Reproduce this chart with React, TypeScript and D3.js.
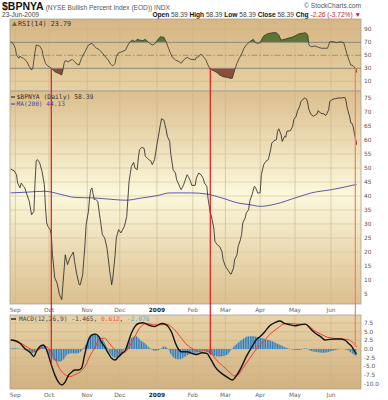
import * as d3 from "d3";
import React from "react";

type Pt = [string, number];

// $BPNYA daily close
const bpnya: Pt[] = [
  ["2008-08-29", 49.6], ["2008-09-01", 49], ["2008-09-03", 47.6], ["2008-09-04", 44.6],
  ["2008-09-06", 42.9], ["2008-09-07", 44.6], ["2008-09-09", 43.5], ["2008-09-10", 43],
  ["2008-09-11", 41.7], ["2008-09-14", 38.1], ["2008-09-16", 33.3], ["2008-09-18", 34.5],
  ["2008-09-19", 45.2], ["2008-09-20", 52.6], ["2008-09-21", 53], ["2008-09-23", 51.8],
  ["2008-09-25", 48.8], ["2008-09-27", 44], ["2008-09-28", 35.7], ["2008-09-29", 30.4],
  ["2008-09-30", 29.2], ["2008-10-02", 28], ["2008-10-03", 26.2], ["2008-10-04", 19],
  ["2008-10-06", 10.7], ["2008-10-08", 8.9], ["2008-10-10", 4.8], ["2008-10-12", 3],
  ["2008-10-13", 8.3], ["2008-10-15", 19], ["2008-10-17", 15.5], ["2008-10-19", 17.9],
  ["2008-10-22", 20], ["2008-10-23", 16.7], ["2008-10-25", 11.9], ["2008-10-27", 8.3],
  ["2008-10-28", 8.3], ["2008-10-30", 11.9], ["2008-11-01", 22.6], ["2008-11-02", 29.8],
  ["2008-11-04", 34.5], ["2008-11-05", 39.3], ["2008-11-06", 42.3], ["2008-11-07", 42.9],
  ["2008-11-09", 38.7], ["2008-11-10", 38.9], ["2008-11-12", 38.1], ["2008-11-14", 32.1],
  ["2008-11-16", 26.2], ["2008-11-18", 25], ["2008-11-20", 21.4], ["2008-11-22", 14.3],
  ["2008-11-24", 8.3], ["2008-11-25", 10.7], ["2008-11-27", 19], ["2008-11-28", 25],
  ["2008-11-30", 28], ["2008-12-02", 26.8], ["2008-12-05", 29.2], ["2008-12-07", 32.7],
  ["2008-12-09", 45.2], ["2008-12-11", 50.6], ["2008-12-13", 52], ["2008-12-14", 50],
  ["2008-12-16", 49.4], ["2008-12-17", 53.6], ["2008-12-18", 56.5], ["2008-12-20", 57.4],
  ["2008-12-22", 57], ["2008-12-23", 54.2], ["2008-12-26", 53], ["2008-12-28", 52.4],
  ["2008-12-29", 51.2], ["2008-12-31", 53], ["2009-01-02", 58.3], ["2009-01-03", 60.7],
  ["2009-01-05", 65.5], ["2009-01-06", 67.6], ["2009-01-08", 67.1], ["2009-01-10", 63.7],
  ["2009-01-11", 61.3], ["2009-01-13", 59.5], ["2009-01-14", 54.8], ["2009-01-16", 49.4],
  ["2009-01-18", 48.2], ["2009-01-19", 45.8], ["2009-01-21", 44], ["2009-01-22", 42.9],
  ["2009-01-23", 42.3], ["2009-01-25", 44], ["2009-01-26", 45.2], ["2009-01-28", 47.6],
  ["2009-01-29", 47], ["2009-01-31", 45.2], ["2009-02-01", 43.8], ["2009-02-04", 43.8],
  ["2009-02-05", 46.4], ["2009-02-07", 48.2], ["2009-02-09", 47.6], ["2009-02-11", 46.2],
  ["2009-02-12", 44.6], ["2009-02-14", 43.5], ["2009-02-15", 39.3], ["2009-02-17", 33.9],
  ["2009-02-18", 32.7], ["2009-02-20", 28.6], ["2009-02-21", 23.8], ["2009-02-23", 22.6],
  ["2009-02-25", 22], ["2009-02-27", 20.2], ["2009-02-28", 17.3], ["2009-03-02", 14.9],
  ["2009-03-03", 14.3], ["2009-03-05", 13.1], ["2009-03-06", 12.3], ["2009-03-07", 12.1],
  ["2009-03-09", 14.3], ["2009-03-10", 17.3], ["2009-03-12", 19], ["2009-03-13", 22],
  ["2009-03-15", 24.4], ["2009-03-16", 26.2], ["2009-03-17", 30.4], ["2009-03-19", 32.1],
  ["2009-03-20", 33.9], ["2009-03-22", 35.1], ["2009-03-23", 38.1], ["2009-03-24", 39.3],
  ["2009-03-25", 40.5], ["2009-03-27", 43.5], ["2009-03-28", 43], ["2009-03-30", 41],
  ["2009-04-01", 41.2], ["2009-04-02", 47.6], ["2009-04-04", 51.2], ["2009-04-06", 52.4],
  ["2009-04-08", 53], ["2009-04-10", 56.5], ["2009-04-11", 58.9], ["2009-04-13", 59.8],
  ["2009-04-15", 60.1], ["2009-04-16", 63.1], ["2009-04-17", 64], ["2009-04-19", 61.9],
  ["2009-04-20", 59.5], ["2009-04-22", 61.3], ["2009-04-23", 61], ["2009-04-24", 63.1],
  ["2009-04-27", 63.3], ["2009-04-29", 64.9], ["2009-04-30", 67.3], ["2009-05-02", 68.5],
  ["2009-05-03", 70.2], ["2009-05-05", 72], ["2009-05-06", 73.6], ["2009-05-08", 74.6],
  ["2009-05-09", 75], ["2009-05-11", 74.6], ["2009-05-12", 73.2], ["2009-05-13", 70.8],
  ["2009-05-15", 69], ["2009-05-17", 68.5], ["2009-05-20", 69.3], ["2009-05-21", 70.5],
  ["2009-05-23", 69.6], ["2009-05-26", 69.3], ["2009-05-27", 68.8], ["2009-05-28", 69],
  ["2009-05-30", 70.8], ["2009-05-31", 73.8], ["2009-06-02", 74.4], ["2009-06-03", 74.6],
  ["2009-06-05", 74.8], ["2009-06-07", 75], ["2009-06-10", 75], ["2009-06-13", 75.2],
  ["2009-06-14", 74], ["2009-06-15", 71.4], ["2009-06-17", 68.5], ["2009-06-18", 66.2],
  ["2009-06-19", 66], ["2009-06-20", 64.9], ["2009-06-22", 60.65], ["2009-06-23", 58.39],
];

// MA(200)
const ma200: Pt[] = [
  ["2008-08-29", 41.1], ["2008-09-13", 41.4], ["2008-09-27", 41.7], ["2008-10-12", 40.5],
  ["2008-10-23", 39.5], ["2008-11-09", 39.3], ["2008-11-27", 38.7], ["2008-12-06", 38.5],
  ["2008-12-20", 39.3], ["2009-01-03", 40.2], ["2009-01-13", 41.1], ["2009-02-01", 41.1],
  ["2009-02-14", 40.7], ["2009-02-27", 39.3], ["2009-03-13", 37.5], ["2009-03-23", 36.9],
  ["2009-04-01", 36.3], ["2009-04-14", 37.1], ["2009-05-01", 39.3], ["2009-05-15", 41.1],
  ["2009-06-02", 42.3], ["2009-06-23", 44.13],
];

// RSI(14)
const rsi14: Pt[] = [
  ["2008-08-29", 70.9], ["2008-08-31", 68.4], ["2008-09-02", 60.8], ["2008-09-03", 50.5],
  ["2008-09-05", 45.4], ["2008-09-06", 48.9], ["2008-09-07", 46.9], ["2008-09-09", 45.4],
  ["2008-09-12", 40.2], ["2008-09-14", 32.5], ["2008-09-16", 27.4], ["2008-09-17", 30],
  ["2008-09-19", 55.5], ["2008-09-20", 65.8], ["2008-09-23", 64.3], ["2008-09-25", 58.2],
  ["2008-09-26", 48.9], ["2008-09-28", 37.7], ["2008-09-30", 33.5], ["2008-10-02", 31.5],
  ["2008-10-04", 28.5], ["2008-10-06", 24.8], ["2008-10-09", 22.3], ["2008-10-12", 19.7],
  ["2008-10-13", 27.4], ["2008-10-14", 37.7], ["2008-10-15", 41.7], ["2008-10-18", 40.2],
  ["2008-10-20", 42.8], ["2008-10-21", 43.8], ["2008-10-23", 40.2], ["2008-10-25", 36.6],
  ["2008-10-27", 35.1], ["2008-10-29", 45.4], ["2008-11-01", 55.5], ["2008-11-04", 65.8],
  ["2008-11-07", 68.5], ["2008-11-09", 64.3], ["2008-11-11", 60.8], ["2008-11-13", 59.2],
  ["2008-11-15", 55.5], ["2008-11-18", 48.9], ["2008-11-21", 42.8], ["2008-11-23", 36.6],
  ["2008-11-25", 33.5], ["2008-11-27", 37.7], ["2008-11-28", 47.8], ["2008-11-30", 54],
  ["2008-12-03", 55.5], ["2008-12-06", 58.2], ["2008-12-08", 65.8], ["2008-12-10", 70.9],
  ["2008-12-12", 73.5], ["2008-12-14", 70.9], ["2008-12-16", 74.6], ["2008-12-18", 73.5],
  ["2008-12-21", 72.5], ["2008-12-23", 74.6], ["2008-12-26", 69.4], ["2008-12-29", 65.8],
  ["2008-12-31", 67.4], ["2009-01-03", 74.6], ["2009-01-05", 78.6], ["2009-01-08", 77.7],
  ["2009-01-10", 70.9], ["2009-01-12", 60.8], ["2009-01-15", 47.8], ["2009-01-18", 42.8],
  ["2009-01-21", 40.2], ["2009-01-23", 37.7], ["2009-01-25", 42.8], ["2009-01-28", 46.9],
  ["2009-01-31", 43.8], ["2009-02-02", 43.8], ["2009-02-04", 42.8], ["2009-02-05", 46.9],
  ["2009-02-07", 47.8], ["2009-02-09", 52], ["2009-02-11", 47.8], ["2009-02-13", 43.8],
  ["2009-02-15", 35.1], ["2009-02-17", 28.5], ["2009-02-20", 26.3], ["2009-02-23", 23.2],
  ["2009-02-25", 19.7], ["2009-02-28", 17.1], ["2009-03-03", 16.2], ["2009-03-06", 14.6],
  ["2009-03-08", 14.6], ["2009-03-10", 27.4], ["2009-03-12", 37.7], ["2009-03-14", 45.4],
  ["2009-03-16", 52], ["2009-03-18", 60.8], ["2009-03-20", 65.8], ["2009-03-23", 70.9],
  ["2009-03-26", 74.6], ["2009-03-28", 69.4], ["2009-03-30", 68.5], ["2009-04-01", 69.4],
  ["2009-04-02", 73.5], ["2009-04-04", 79.7], ["2009-04-07", 82.8], ["2009-04-09", 83.8],
  ["2009-04-12", 84.8], ["2009-04-15", 84.8], ["2009-04-17", 81.2], ["2009-04-19", 73.5],
  ["2009-04-22", 74.6], ["2009-04-25", 76.2], ["2009-04-28", 77.7], ["2009-05-01", 79.7],
  ["2009-05-04", 82.8], ["2009-05-07", 83.8], ["2009-05-10", 84.8], ["2009-05-12", 81.2],
  ["2009-05-13", 65.8], ["2009-05-15", 63.2], ["2009-05-18", 64.3], ["2009-05-21", 62.3],
  ["2009-05-24", 60.8], ["2009-05-27", 60.8], ["2009-05-29", 60.8], ["2009-05-31", 70.9],
  ["2009-06-03", 70.9], ["2009-06-06", 69.4], ["2009-06-09", 70.9], ["2009-06-12", 69.4],
  ["2009-06-13", 63.2], ["2009-06-15", 50.5], ["2009-06-17", 40.2], ["2009-06-18", 35.1],
  ["2009-06-20", 34], ["2009-06-22", 30], ["2009-06-23", 23.79],
];

// MACD(12,26,9)
const macdLine: Pt[] = [
  ["2008-08-29", 2.6], ["2008-09-02", 2.4], ["2008-09-06", 1.65], ["2008-09-10", 0.2],
  ["2008-09-15", -1.1], ["2008-09-18", -2.2], ["2008-09-20", -0.8], ["2008-09-23", 0.67],
  ["2008-09-26", 1.16], ["2008-09-28", 0.5], ["2008-09-30", -1.25], ["2008-10-03", -4.6],
  ["2008-10-06", -7.5], ["2008-10-09", -9.5], ["2008-10-12", -10.4], ["2008-10-15", -9.5],
  ["2008-10-18", -7.5], ["2008-10-21", -6.6], ["2008-10-23", -6.1], ["2008-10-26", -6.1],
  ["2008-10-29", -5.6], ["2008-11-01", -1.25], ["2008-11-04", 2.6], ["2008-11-07", 4.1],
  ["2008-11-10", 4.3], ["2008-11-13", 3.6], ["2008-11-15", 2.1], ["2008-11-18", 0.67],
  ["2008-11-21", -1.1], ["2008-11-24", -2.7], ["2008-11-27", -3.2], ["2008-11-30", -2.2],
  ["2008-12-03", -1.25], ["2008-12-06", -0.3], ["2008-12-08", 1.65], ["2008-12-11", 4.55],
  ["2008-12-14", 6.5], ["2008-12-17", 7.4], ["2008-12-21", 7.6], ["2008-12-27", 6.8],
  ["2008-12-31", 6.5], ["2009-01-06", 7.4], ["2009-01-10", 7], ["2009-01-15", 4.55],
  ["2009-01-18", 1.65], ["2009-01-21", -0.3], ["2009-01-23", -0.8], ["2009-01-28", -0.8],
  ["2009-02-01", -1.25], ["2009-02-05", -1.6], ["2009-02-10", -1.1], ["2009-02-14", -1.25],
  ["2009-02-17", -2.7], ["2009-02-21", -5.1], ["2009-02-25", -6.6], ["2009-03-02", -7.8],
  ["2009-03-06", -8.7], ["2009-03-08", -9], ["2009-03-12", -7.5], ["2009-03-16", -5.1],
  ["2009-03-20", -2.2], ["2009-03-25", 0.7], ["2009-03-29", 2.8], ["2009-04-01", 3.6],
  ["2009-04-05", 5], ["2009-04-09", 6.7], ["2009-04-14", 7.7], ["2009-04-18", 8.1],
  ["2009-04-22", 7.4], ["2009-04-27", 7], ["2009-05-01", 6.75], ["2009-05-05", 7],
  ["2009-05-10", 7.2], ["2009-05-14", 6], ["2009-05-18", 4.7], ["2009-05-23", 3.6],
  ["2009-05-27", 2.6], ["2009-05-31", 2.8], ["2009-06-05", 2.9], ["2009-06-09", 2.9],
  ["2009-06-13", 2.6], ["2009-06-16", 1.65], ["2009-06-19", 0.7], ["2009-06-22", -1.0],
  ["2009-06-23", -1.465],
];

const signalLine: Pt[] = [
  ["2008-08-29", 2.6], ["2008-09-06", 1.8], ["2008-09-15", 0], ["2008-09-19", -0.8],
  ["2008-09-23", 0], ["2008-09-28", 0.7], ["2008-10-02", -0.3], ["2008-10-06", -2.7],
  ["2008-10-10", -5.6], ["2008-10-15", -7.5], ["2008-10-19", -8], ["2008-10-23", -7.5],
  ["2008-10-28", -6.6], ["2008-11-01", -5.1], ["2008-11-05", -2.2], ["2008-11-10", 0.7],
  ["2008-11-14", 3.1], ["2008-11-18", 3.1], ["2008-11-22", 1.65], ["2008-11-27", -0.3],
  ["2008-12-01", -1.25], ["2008-12-06", -0.8], ["2008-12-10", 1.16], ["2008-12-14", 3.6],
  ["2008-12-18", 6], ["2008-12-24", 7.4], ["2008-12-30", 7], ["2009-01-05", 7],
  ["2009-01-10", 7.2], ["2009-01-16", 6], ["2009-01-22", 3.6], ["2009-01-28", 1.16],
  ["2009-02-02", 0], ["2009-02-08", -0.8], ["2009-02-11", -0.5], ["2009-02-17", -0.8],
  ["2009-02-21", -2.7], ["2009-02-25", -4.1], ["2009-03-02", -5.6], ["2009-03-06", -6.9],
  ["2009-03-10", -7.8], ["2009-03-13", -7.5], ["2009-03-17", -5.6], ["2009-03-22", -3.2],
  ["2009-03-26", -1.25], ["2009-03-30", 0.5], ["2009-04-04", 2.1], ["2009-04-08", 3.8],
  ["2009-04-12", 5], ["2009-04-17", 6.3], ["2009-04-21", 7.2], ["2009-04-27", 7.4],
  ["2009-05-03", 7.2], ["2009-05-08", 7.2], ["2009-05-13", 6.7], ["2009-05-17", 5.5],
  ["2009-05-23", 4.35], ["2009-05-29", 3.4], ["2009-06-04", 3.1], ["2009-06-09", 2.9],
  ["2009-06-15", 2.8], ["2009-06-19", 2.1], ["2009-06-22", 1.16], ["2009-06-23", 0.612],
];

const histogram: Pt[] = [
  ["2008-08-29", 0.2], ["2008-09-06", 0.1], ["2008-09-12", -0.5], ["2008-09-17", -1.2],
  ["2008-09-20", -0.3], ["2008-09-24", 0.9], ["2008-09-27", 0.8], ["2008-09-30", -0.8],
  ["2008-10-03", -2.5], ["2008-10-07", -3.5], ["2008-10-10", -3.7], ["2008-10-14", -2.8],
  ["2008-10-17", -1.5], ["2008-10-21", -1.2], ["2008-10-25", -1.3], ["2008-10-29", -0.6],
  ["2008-11-02", 1.5], ["2008-11-05", 3.5], ["2008-11-09", 4.5], ["2008-11-13", 3.5],
  ["2008-11-17", 2.5], ["2008-11-20", 0.5], ["2008-11-23", -1.5], ["2008-11-27", -2.5],
  ["2008-12-01", -2.3], ["2008-12-04", -0.5], ["2008-12-08", 1.5], ["2008-12-12", 3.5],
  ["2008-12-15", 3.7], ["2008-12-19", 2.5], ["2008-12-23", 1.6], ["2008-12-27", 0.2],
  ["2008-12-31", -0.5], ["2009-01-04", -0.3], ["2009-01-08", 0.7], ["2009-01-11", 0.3],
  ["2009-01-14", -1.5], ["2009-01-18", -2.8], ["2009-01-22", -3], ["2009-01-27", -2],
  ["2009-02-01", -1.2], ["2009-02-06", -1], ["2009-02-11", -0.4], ["2009-02-15", -1],
  ["2009-02-19", -1.8], ["2009-02-24", -2.2], ["2009-02-28", -2], ["2009-03-04", -1.5],
  ["2009-03-08", 0.2], ["2009-03-12", 1.5], ["2009-03-17", 2.8], ["2009-03-21", 3.6],
  ["2009-03-26", 3.7], ["2009-03-31", 3.3], ["2009-04-06", 2.8], ["2009-04-12", 2.2],
  ["2009-04-18", 1.2], ["2009-04-24", 0.3], ["2009-04-30", -0.2], ["2009-05-05", -0.3],
  ["2009-05-10", 0.2], ["2009-05-14", -0.4], ["2009-05-19", -0.9], ["2009-05-25", -1.1],
  ["2009-05-31", -0.7], ["2009-06-05", -0.3], ["2009-06-10", 0], ["2009-06-15", -0.3],
  ["2009-06-19", -1.2], ["2009-06-23", -2.076],
];

// hand-drawn marker lines: date, RSI level they start from, MACD level they end at
const markerDates = ["2008-10-03", "2009-02-17", "2009-06-22"];
const markerEnds = [-4.6, -1.7, 0.6];
const markerColors = ["#e8141b", "#e8141b", "#f27b78"];

const monthTicks = [
  "2008-09-02", "2008-10-01", "2008-11-03", "2008-12-01", "2009-01-02",
  "2009-02-02", "2009-03-02", "2009-04-01", "2009-05-01", "2009-06-01",
];
const monthLabels = ["Sep", "Oct", "Nov", "Dec", "2009", "Feb", "Mar", "Apr", "May", "Jun"];
const priceTicks = [5, 10, 15, 20, 25, 30, 35, 40, 45, 50, 55, 60, 65, 70, 75];
const rsiTicks = [10, 30, 50, 70, 90];
const macdTicks = [7.5, 5, 2.5, 0, -2.5, -5, -7.5, -10];

const parse = d3.timeParse("%Y-%m-%d");
type Row = { date: Date; value: number };
const rows = (a: Pt[]): Row[] => a.map(([d, v]) => ({ date: parse(d)!, value: v }));

const L = 10;
const R = 361;
const rsiTop = 19, rsiBot = 90.5;
const mainTop = 91.5, mainBot = 304;
const macdTop = 315, macdBot = 389;

const sans = "'Liberation Sans', Arial, sans-serif";
const mono = "'DejaVu Sans Mono', monospace";
const axisFont = "'DejaVu Sans', sans-serif";

export default function App() {
  const x = d3
    .scaleTime()
    .domain([parse("2008-08-29")!, parse("2009-06-23")!])
    .range([10.7, 356.5]);
  const yRsi = d3.scaleLinear().domain([0, 100]).range([87.8, 22.8]);
  const yMain = d3.scaleLinear().domain([0, 80]).range([308, 84]);
  const yMacd = d3.scaleLinear().domain([-10, 10]).range([383.5, 314.5]);

  const price = rows(bpnya);
  const ma = rows(ma200);
  const rsi = rows(rsi14);
  const macd = rows(macdLine);
  const sig = rows(signalLine);
  const hist = rows(histogram);

  const lineOf = (y: d3.ScaleLinear<number, number>, curve = d3.curveLinear) =>
    d3
      .line<Row>()
      .x((d) => x(d.date))
      .y((d) => y(d.value))
      .curve(curve);

  const rsiArea = d3
    .area<Row>()
    .x((d) => x(d.date))
    .y0(yRsi(50))
    .y1((d) => yRsi(d.value));

  const histArea = d3
    .area<Row>()
    .x((d) => x(d.date))
    .y0(yMacd(0))
    .y1((d) => yMacd(d.value))
    .curve(d3.curveMonotoneX);

  const months = monthTicks.map((m) => parse(m)!);

  const vGrid = (top: number, bot: number) =>
    months.map((m, i) => (
      <line key={i} x1={x(m)} x2={x(m)} y1={top} y2={bot} stroke="#c9b48a" strokeWidth={0.6} />
    ));

  const monthText = (y: number) =>
    months.map((m, i) => (
      <text
        key={i}
        x={x(m)}
        y={y}
        textAnchor="middle"
        fontSize={5.8}
        fontFamily={axisFont}
        fontWeight={monthLabels[i] === "2009" ? "bold" : "normal"}
        fill={monthLabels[i] === "2009" ? "#222" : "#666"}
      >
        {monthLabels[i]}
      </text>
    ));

  const lastTwo = (a: Row[]) => a.slice(-2);

  return (
    <svg
      width={388}
      height={400}
      style={{ position: "absolute", left: 0, top: 0, background: "#fff" }}
    >
      <defs>
        <linearGradient id="rsiBg" x1="0" y1="0" x2="0" y2="1">
          <stop offset="0%" stopColor="#d6b684" />
          <stop offset="100%" stopColor="#e7d1a2" />
        </linearGradient>
        <linearGradient id="mainBg" x1="0" y1="0" x2="0" y2="1">
          <stop offset="0%" stopColor="#dcbf8e" />
          <stop offset="48%" stopColor="#fbf8dc" />
          <stop offset="100%" stopColor="#dcbf8e" />
        </linearGradient>
        <linearGradient id="macdBg" x1="0" y1="0" x2="0" y2="1">
          <stop offset="0%" stopColor="#e7d3a7" />
          <stop offset="100%" stopColor="#d3b180" />
        </linearGradient>
        <pattern id="histBars" width={1.7} height={20} patternUnits="userSpaceOnUse">
          <rect width={1.15} height={20} fill="#2f78b4" />
          <rect x={1.15} width={0.55} height={20} fill="#7fb0d8" />
        </pattern>
        <clipPath id="rsiHi">
          <rect x={L} y={rsiTop} width={R - L} height={yRsi(70) - rsiTop} />
        </clipPath>
        <clipPath id="rsiLo">
          <rect x={L} y={yRsi(30)} width={R - L} height={rsiBot - yRsi(30)} />
        </clipPath>
        <clipPath id="mainClip">
          <rect x={L} y={mainTop} width={R - L} height={mainBot - mainTop} />
        </clipPath>
      </defs>

      {/* header */}
      <text x={2} y={10} fontFamily={sans} fontSize={10.5} fontWeight="bold" fill="#111">
        $BPNYA
        <tspan fontSize={6.6} fontWeight="normal" fill="#555" dx={2}>
          (NYSE Bullish Percent Index (EOD)) INDX
        </tspan>
      </text>
      <text x={361} y={8} textAnchor="end" fontFamily={sans} fontSize={6.6} fill="#555">
        © StockCharts.com
      </text>
      <text x={2} y={17} fontFamily={sans} fontSize={6.6} fill="#444">
        23-Jun-2009
      </text>
      <text x={361} y={17} textAnchor="end" fontFamily={sans} fontSize={6.6} fill="#444">
        <tspan fontWeight="bold" fill="#111">Open</tspan> 58.39{" "}
        <tspan fontWeight="bold" fill="#111">High</tspan> 58.39{" "}
        <tspan fontWeight="bold" fill="#111">Low</tspan> 58.39{" "}
        <tspan fontWeight="bold" fill="#111">Close</tspan> 58.39{" "}
        <tspan fontWeight="bold" fill="#111">Chg</tspan>{" "}
        <tspan fill="#c81e1e">-2.26 (-3.72%) ▼</tspan>
      </text>

      {/* RSI panel */}
      <rect x={L} y={rsiTop} width={R - L} height={rsiBot - rsiTop} fill="url(#rsiBg)" stroke="#a39a88" strokeWidth={0.7} />
      {vGrid(rsiTop, rsiBot)}
      {[10, 90].map((v) => (
        <line key={v} x1={L} x2={R} y1={yRsi(v)} y2={yRsi(v)} stroke="#c9b48a" strokeWidth={0.6} />
      ))}
      <path d={rsiArea(rsi) ?? ""} fill="#5d7534" clipPath="url(#rsiHi)" />
      <path d={rsiArea(rsi) ?? ""} fill="#8e4c3a" clipPath="url(#rsiLo)" />
      {[30, 70].map((v) => (
        <line key={v} x1={L} x2={R} y1={yRsi(v)} y2={yRsi(v)} stroke="#8c877c" strokeWidth={1} />
      ))}
      <line x1={L} x2={R} y1={yRsi(50)} y2={yRsi(50)} stroke="#8c877c" strokeWidth={0.8} strokeDasharray="6,2,1.5,2" />
      <path d={lineOf(yRsi)(rsi) ?? ""} fill="none" stroke="#333" strokeWidth={0.8} />
      <path d={lineOf(yRsi)(lastTwo(rsi)) ?? ""} fill="none" stroke="#d42020" strokeWidth={1} />
      {rsiTicks.map((v) => (
        <text key={v} x={364} y={yRsi(v) + 2} fontSize={5.8} fontFamily={axisFont} fill="#555">
          {v}
        </text>
      ))}
      <path d={`M12,26 L14.5,21.5 L17,26 Z`} fill="#4f7a2a" />
      <text x={18} y={26} fontFamily={mono} fontSize={6.8} fill="#333">
        RSI(14) 23.79
      </text>

      {/* price panel */}
      <rect x={L} y={mainTop} width={R - L} height={mainBot - mainTop} fill="url(#mainBg)" stroke="#a39a88" strokeWidth={0.7} />
      {vGrid(mainTop, mainBot)}
      {priceTicks.map((v) => (
        <line key={v} x1={L} x2={R} y1={yMain(v)} y2={yMain(v)} stroke="#d6c59c" strokeWidth={0.6} />
      ))}
      <g clipPath="url(#mainClip)">
        <path d={lineOf(yMain, d3.curveMonotoneX)(ma) ?? ""} fill="none" stroke="#4848a8" strokeWidth={0.9} />
        <path d={lineOf(yMain)(price) ?? ""} fill="none" stroke="#222" strokeWidth={0.8} />
        <path d={lineOf(yMain)(lastTwo(price)) ?? ""} fill="none" stroke="#d42020" strokeWidth={1} />
      </g>
      {priceTicks.map((v) => (
        <text key={v} x={364} y={yMain(v) + 2} fontSize={5.8} fontFamily={axisFont} fill="#555">
          {v}
        </text>
      ))}
      <line x1={11} x2={15} y1={97} y2={97} stroke="#333" strokeWidth={1.2} />
      <text x={16.5} y={99.3} fontFamily={mono} fontSize={6.4} fill="#333">
        $BPNYA (Daily) 58.39
      </text>
      <line x1={11} x2={15} y1={104} y2={104} stroke="#4848a8" strokeWidth={1.2} />
      <text x={16.5} y={106.3} fontFamily={mono} fontSize={6.2} fill="#4848a8">
        MA(200) 44.13
      </text>

      {monthText(311.5)}

      {/* MACD panel */}
      <rect x={L} y={macdTop} width={R - L} height={macdBot - macdTop} fill="url(#macdBg)" stroke="#a39a88" strokeWidth={0.7} />
      {vGrid(macdTop, macdBot)}
      {macdTicks.map((v) => (
        <line key={v} x1={L} x2={R} y1={yMacd(v)} y2={yMacd(v)} stroke="#c9b48a" strokeWidth={0.6} />
      ))}
      <path d={histArea(hist) ?? ""} fill="url(#histBars)" />
      <path d={lineOf(yMacd, d3.curveMonotoneX)(sig) ?? ""} fill="none" stroke="#f03c2e" strokeWidth={1} />
      <path d={lineOf(yMacd, d3.curveMonotoneX)(macd) ?? ""} fill="none" stroke="#111" strokeWidth={1.4} />
      {macdTicks.map((v) => (
        <text key={v} x={364} y={yMacd(v) + 2} fontSize={5.8} fontFamily={axisFont} fill="#555">
          {v.toFixed(1)}
        </text>
      ))}
      <line x1={11} x2={16} y1={319} y2={319} stroke="#111" strokeWidth={1.3} />
      <text x={19} y={321.3} fontFamily={mono} fontSize={6.2} fill="#444">
        MACD(12,26,9) -1.465, <tspan fill="#f0503e">0.612</tspan>, <tspan fill="#6aa0d0">-2.076</tspan>
      </text>

      {monthText(397)}

      {/* marker lines */}
      {markerDates.map((d, i) => (
        <line
          key={d}
          x1={x(parse(d)!)}
          x2={x(parse(d)!)}
          y1={yRsi(30)}
          y2={yMacd(markerEnds[i])}
          stroke={markerColors[i]}
          strokeWidth={1.2}
        />
      ))}
    </svg>
  );
}
